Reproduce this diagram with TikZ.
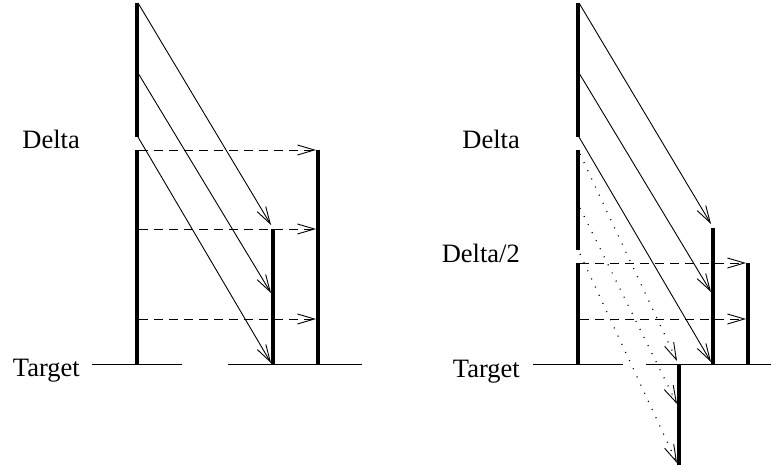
\documentclass[tikz,border=0pt]{standalone}
\usepackage{fontspec}
\setmainfont{Liberation Serif}
\usetikzlibrary{arrows.meta}
\begin{document}
\begin{tikzpicture}[x=1pt,y=-1pt,
  barline/.style={line width=4.5pt},
  baseline/.style={line width=1pt},
  tip/.style={-{Straight Barb[length=17pt,width=10pt,line width=0.9pt]}},
  ray/.style={line width=0.9pt,tip},
  dray/.style={line width=0.9pt,tip,dash pattern=on 9pt off 6pt},
  tray/.style={line width=1.2pt,tip,dash pattern=on 1pt off 8pt},
  lbl/.style={font=\fontsize{26.5}{30}\selectfont,inner sep=0pt,anchor=base east}]
\useasboundingbox (0,0) rectangle (771,465);
% ---------------- left diagram ----------------
\coordinate (A1) at (137,3);   \coordinate (A2) at (137,137);
\coordinate (A3) at (137,150); \coordinate (A4) at (137,364);
\coordinate (B1) at (273,229); \coordinate (B2) at (273,364);
\coordinate (C1) at (318,150); \coordinate (C2) at (318,364);
\coordinate (T1) at (92,364);  \coordinate (T2) at (182,364);
\coordinate (T3) at (228,364); \coordinate (T4) at (362,364);
\draw[barline] (A1) -- (A2);
\draw[barline] (A3) -- (A4);
\draw[barline] (B1) -- (B2);
\draw[barline] (C1) -- (C2);
\draw[baseline] (T1) -- (T2);
\draw[baseline] (T3) -- (T4);
\coordinate (S1) at (138,3);   \coordinate (E1) at (271,225);
\coordinate (S2) at (138,73);  \coordinate (E2) at (271,293);
\coordinate (S3) at (138,137); \coordinate (E3) at (271,363);
\draw[ray] (S1) -- (E1);
\draw[ray] (S2) -- (E2);
\draw[ray] (S3) -- (E3);
\coordinate (D1) at (139,150); \coordinate (F1) at (316,150);
\coordinate (D2) at (139,229); \coordinate (F2) at (316,229);
\coordinate (D3) at (139,319); \coordinate (F3) at (316,319);
\draw[dray] (D1) -- (F1);
\draw[dray] (D2) -- (F2);
\draw[dray] (D3) -- (F3);
\node[lbl] (ldelta) at (80,149) {Delta};
\node[lbl] (ltarget) at (80,376) {Target};
% ---------------- right diagram ----------------
\coordinate (a1) at (578,3);   \coordinate (a2) at (578,137);
\coordinate (a3) at (578,150); \coordinate (a4) at (578,250);
\coordinate (a5) at (578,263); \coordinate (a6) at (578,364);
\coordinate (b1) at (713,228); \coordinate (b2) at (713,364);
\coordinate (c1) at (748,263); \coordinate (c2) at (748,364);
\coordinate (d1) at (679,364); \coordinate (d2) at (679,465);
\coordinate (t1) at (533,364); \coordinate (t2) at (623,364);
\coordinate (t3) at (646,364); \coordinate (t4) at (771,364);
\draw[barline] (a1) -- (a2);
\draw[barline] (a3) -- (a4);
\draw[barline] (a5) -- (a6);
\draw[barline] (b1) -- (b2);
\draw[barline] (c1) -- (c2);
\draw[barline] (d1) -- (d2);
\draw[baseline] (t1) -- (t2);
\draw[baseline] (t3) -- (t4);
\coordinate (s1) at (579,3);   \coordinate (e1) at (711,224);
\coordinate (s2) at (579,73);  \coordinate (e2) at (711,292);
\coordinate (s3) at (579,137); \coordinate (e3) at (711,362);
\draw[ray] (s1) -- (e1);
\draw[ray] (s2) -- (e2);
\draw[ray] (s3) -- (e3);
\coordinate (g1) at (580,263); \coordinate (h1) at (746,263);
\coordinate (g2) at (580,319); \coordinate (h2) at (746,319);
\draw[dray] (g1) -- (h1);
\draw[dray] (g2) -- (h2);
\coordinate (p1) at (580,154); \coordinate (q1) at (677,361);
\coordinate (p2) at (580,208); \coordinate (q2) at (677,404);
\coordinate (p3) at (580,254); \coordinate (q3) at (677,463);
\draw[tray] (p1) -- (q1);
\draw[tray] (p2) -- (q2);
\draw[tray] (p3) -- (q3);
\node[lbl] (rdelta) at (520,149) {Delta};
\node[lbl] (rdelta2) at (520,262) {Delta/2};
\node[lbl] (rtarget) at (520,377) {Target};
\end{tikzpicture}
\end{document}
